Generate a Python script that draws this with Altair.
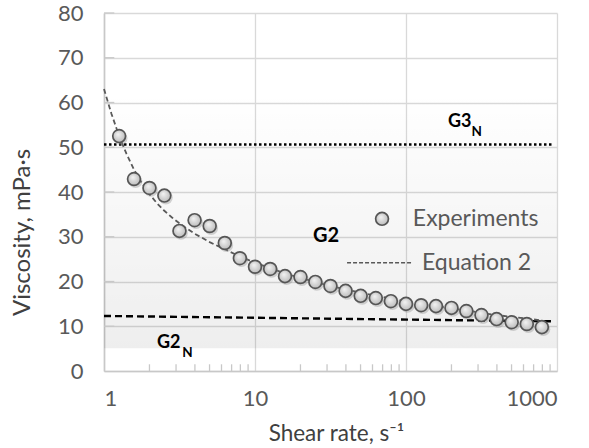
import altair as alt
import pandas as pd

# Experimental data
shear_exp = [1.26, 1.58, 2.0, 2.51, 3.16, 3.98, 5.01, 6.31, 7.94, 10, 12.6, 15.8, 20, 25.1,
             31.6, 39.8, 50.1, 63.1, 79.4, 100, 126, 158, 200, 251, 316, 398, 501, 631, 794]
visc_exp = [52.5, 42.9, 40.9, 39.2, 31.3, 33.7, 32.4, 28.6, 25.2, 23.3, 22.8, 21.2, 21.0, 19.9,
            19.0, 17.9, 16.8, 16.3, 15.6, 15.0, 14.7, 14.5, 14.1, 13.4, 12.5, 11.6, 10.9, 10.5, 9.8]

# Equation 2 curve
shear_eq = [1, 1.12, 1.26, 1.41, 1.58, 1.78, 2, 2.24, 2.51, 2.82, 3.16, 3.55, 3.98, 5.01, 6.31,
            7.94, 10, 12.6, 15.8, 20, 25.1, 31.6, 39.8, 50.1, 63.1, 79.4, 100, 126, 158, 200,
            251, 316, 398, 501, 631, 794]
visc_eq = [63, 57.5, 52.5, 48.5, 45, 42, 39.5, 37.5, 35.8, 34.3, 33, 31.8, 30.7, 28.8, 27.2,
           25.6, 24.2, 23, 21.8, 20.8, 19.9, 19, 18.2, 17.5, 16.8, 16.2, 15.6, 15, 14.5, 14,
           13.5, 13, 12.5, 12.1, 11.7, 11.3]

# Newtonian reference lines
g3n_shear = [1, 920]
g3n_visc = [50.6, 50.6]
g2n_shear = [1, 920]
g2n_visc = [12.3, 11.1]

# Axis ticks
x_major = [1, 10, 100, 1000]
y_major = [0, 10, 20, 30, 40, 50, 60, 70, 80]
x_minor = [2, 3, 4, 5, 6, 7, 8, 9, 20, 30, 40, 50, 60, 70, 80, 90,
           200, 300, 400, 500, 600, 700, 800, 900]

FONT = "Lato"
W, H = 453, 358

xs = alt.Scale(type="log", domain=[1, 1000])
ys = alt.Scale(domain=[0, 80])

xaxis = alt.Axis(values=x_major, format="~g", grid=True, gridColor="#d9d9d9", gridWidth=1.3,
                 domainColor="#c8c8c8", domainWidth=1.6, ticks=False,
                 labelFont=FONT, labelFontSize=22, labelColor="#595959", labelPadding=17,
                 title="Shear rate, s\u207b\u00b9", titleFont=FONT, titleFontSize=22.5,
                 titleFontWeight="normal", titleColor="#404040",
                 titleX=232, titleY=62, titleBaseline="middle", titleAlign="center")
yaxis = alt.Axis(values=y_major, grid=True, gridColor="#d9d9d9", gridWidth=1.3,
                 domainColor="#c8c8c8", domainWidth=1.6, ticks=False,
                 labelFont=FONT, labelFontSize=22, labelColor="#595959", labelPadding=21,
                 title="Viscosity, mPa\u00b7s", titleFont=FONT, titleFontSize=24,
                 titleFontWeight="normal", titleColor="#404040",
                 titleX=-82, titleY=219, titleAngle=-90, titleBaseline="middle", titleAlign="center")

bg = pd.DataFrame({"x": [1], "x2": [1000], "y": [5.1], "y2": [62.5]})
background = alt.Chart(bg).mark_rect(
    fill=alt.Gradient(gradient="linear",
                      stops=[alt.GradientStop(color="rgba(0,0,0,0.0)", offset=0),
                             alt.GradientStop(color="rgba(0,0,0,0.065)", offset=1)],
                      x1=0, x2=0, y1=0, y2=1)
).encode(
    x=alt.X("x:Q", scale=xs, axis=xaxis),
    x2="x2:Q",
    y=alt.Y("y:Q", scale=ys, axis=yaxis),
    y2="y2:Q",
)

minor_df = pd.DataFrame({"x": x_minor, "y": [0] * len(x_minor), "y2": [1.5] * len(x_minor)})
minor_ticks = alt.Chart(minor_df).mark_rule(color="#c8c8c8", strokeWidth=1.3).encode(
    x=alt.X("x:Q", scale=xs), y=alt.Y("y:Q", scale=ys), y2="y2:Q")

ytick_df = pd.DataFrame({"y": y_major[1:], "x": [1] * (len(y_major) - 1), "x2": [1.17] * (len(y_major) - 1)})
y_ticks = alt.Chart(ytick_df).mark_rule(color="#c8c8c8", strokeWidth=1.3).encode(
    x=alt.X("x:Q", scale=xs), x2="x2:Q", y=alt.Y("y:Q", scale=ys))

g3n = alt.Chart(pd.DataFrame({"x": g3n_shear, "y": g3n_visc})).mark_line(
    color="black", strokeWidth=2.6, strokeDash=[2.5, 2.5]).encode(
    x=alt.X("x:Q", scale=xs), y=alt.Y("y:Q", scale=ys))

g2n = alt.Chart(pd.DataFrame({"x": g2n_shear, "y": g2n_visc})).mark_line(
    color="black", strokeWidth=2.4, strokeDash=[7, 4]).encode(
    x=alt.X("x:Q", scale=xs), y=alt.Y("y:Q", scale=ys))

eq = alt.Chart(pd.DataFrame({"x": shear_eq, "y": visc_eq})).mark_line(
    color="#595959", strokeWidth=1.8, strokeDash=[5, 3]).encode(
    x=alt.X("x:Q", scale=xs), y=alt.Y("y:Q", scale=ys))

exp_df = pd.DataFrame({"x": shear_exp, "y": visc_exp})
shadow = alt.Chart(exp_df).mark_point(
    shape="circle", filled=True, size=190, color="#888888", opacity=0.35,
    xOffset=1.5, yOffset=2).encode(x=alt.X("x:Q", scale=xs), y=alt.Y("y:Q", scale=ys))

point_fill = alt.Gradient(gradient="radial",
                          stops=[alt.GradientStop(color="#f4f4f4", offset=0),
                                 alt.GradientStop(color="#b4b4b4", offset=1)],
                          x1=0.4, y1=0.35, r1=0, x2=0.5, y2=0.5, r2=0.6)
points = alt.Chart(exp_df).mark_point(
    shape="circle", filled=True, size=165, fill=point_fill, stroke="#555555",
    strokeWidth=1.7, opacity=1).encode(x=alt.X("x:Q", scale=xs), y=alt.Y("y:Q", scale=ys))

# Legend (manual)
leg_pt = alt.Chart(pd.DataFrame({"x": [69.4], "y": [34.0]})).mark_point(
    shape="circle", filled=True, size=165, fill=point_fill, stroke="#555555",
    strokeWidth=1.7, opacity=1).encode(x=alt.X("x:Q", scale=xs), y=alt.Y("y:Q", scale=ys))
leg_line = alt.Chart(pd.DataFrame({"x": [40.7, 109], "y": [24.2, 24.2]})).mark_line(
    color="#595959", strokeWidth=1.6, strokeDash=[4, 2]).encode(
    x=alt.X("x:Q", scale=xs), y=alt.Y("y:Q", scale=ys))
leg_text = alt.Chart(pd.DataFrame({"x": [111, 127.7], "y": [34.0, 24.2],
                                   "t": ["Experiments", "Equation 2"]})).mark_text(
    align="left", baseline="middle", font=FONT, fontSize=23, color="#595959").encode(
    x=alt.X("x:Q", scale=xs), y=alt.Y("y:Q", scale=ys), text="t:N")

# Annotations
g2_lab = alt.Chart(pd.DataFrame({"x": [24.2], "y": [30.2], "t": ["G2"]})).mark_text(
    align="left", baseline="middle", font=FONT, fontSize=20, fontWeight="bold", color="black").encode(
    x=alt.X("x:Q", scale=xs), y=alt.Y("y:Q", scale=ys), text="t:N")
n_lab = alt.Chart(pd.DataFrame({"x": [189.7, 2.24], "y": [55.6, 6.3],
                                "t": ["G3", "G2"]})).mark_text(
    align="left", baseline="middle", font=FONT, fontSize=18, fontWeight="bold", color="black").encode(
    x=alt.X("x:Q", scale=xs), y=alt.Y("y:Q", scale=ys), text="t:N")
sub_lab = alt.Chart(pd.DataFrame({"x": [272, 3.3], "y": [53.5, 4.1],
                                  "t": ["N", "N"]})).mark_text(
    align="left", baseline="middle", font=FONT, fontSize=13.5, fontWeight="bold", color="black").encode(
    x=alt.X("x:Q", scale=xs), y=alt.Y("y:Q", scale=ys), text="t:N")

chart = alt.layer(
    background, minor_ticks, y_ticks, g3n, g2n, eq, shadow, points,
    leg_pt, leg_line, leg_text, g2_lab, n_lab, sub_lab
).properties(
    width=W, height=H,
    autosize=alt.AutoSizeParams(type="none"),
    padding={"left": 104, "top": 13, "right": 32, "bottom": 77},
).configure_view(stroke=None)

chart.save("out.html", embed_options={"renderer": "svg", "actions": False})
